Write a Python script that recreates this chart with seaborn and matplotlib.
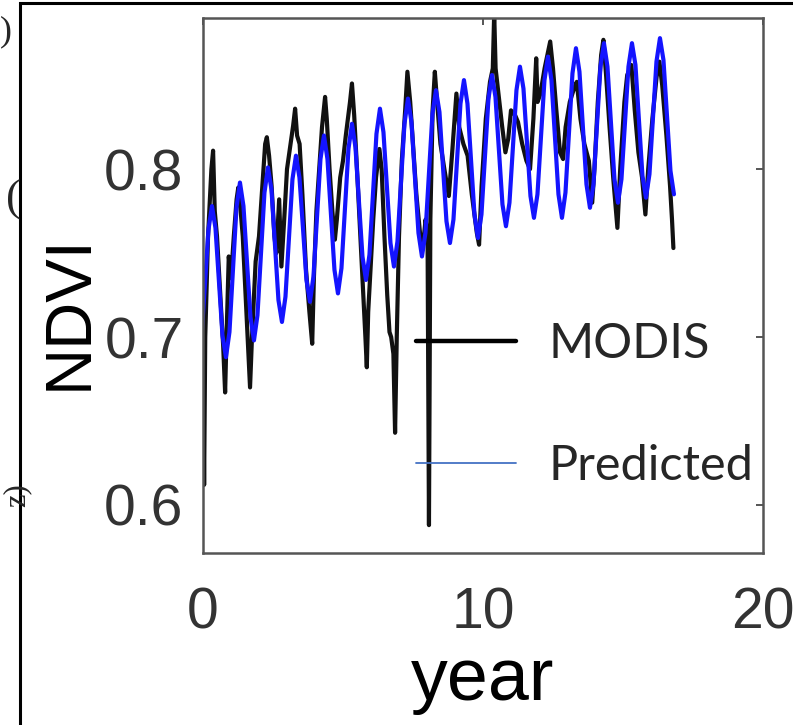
import numpy as np
import pandas as pd
import matplotlib
matplotlib.use("Agg")
import matplotlib.pyplot as plt
import seaborn as sns
from matplotlib.lines import Line2D
from matplotlib.patches import Rectangle

# -----------------------------
# Data
# -----------------------------

# MODIS NDVI (black, noisy with cloud dropouts)
modis_year = [0.00, 0.04, 0.08, 0.18, 0.30, 0.36, 0.42, 0.50, 0.62, 0.72, 0.79, 0.84, 0.92,
              1.00, 1.10, 1.20, 1.26, 1.33, 1.42, 1.55, 1.68, 1.75, 1.88,
              2.00, 2.12, 2.22, 2.28, 2.36, 2.45, 2.55, 2.62, 2.72, 2.80, 2.90,
              3.00, 3.10, 3.22, 3.29, 3.36, 3.45, 3.55, 3.68, 3.80, 3.90, 3.96,
              4.05, 4.15, 4.25, 4.36, 4.42, 4.52, 4.62, 4.71, 4.78, 4.90,
              5.00, 5.10, 5.25, 5.32, 5.40, 5.50, 5.62, 5.72, 5.80, 5.85, 5.90,
              6.00, 6.08, 6.18, 6.30, 6.38, 6.48, 6.58, 6.66, 6.72, 6.80, 6.86, 6.92,
              7.00, 7.10, 7.22, 7.30, 7.40, 7.50, 7.62, 7.75, 7.86, 7.95,
              8.02, 8.07, 8.12, 8.20, 8.28, 8.36, 8.48, 8.62, 8.78, 8.90,
              9.05, 9.15, 9.30, 9.45, 9.60, 9.72, 9.78, 9.86, 9.95,
              10.10, 10.25, 10.35, 10.40, 10.45, 10.55, 10.68, 10.80, 10.90,
              11.00, 11.15, 11.25, 11.40, 11.55, 11.68, 11.80, 11.90, 11.95,
              12.05, 12.20, 12.40, 12.50, 12.62, 12.75, 12.86, 12.95,
              13.10, 13.25, 13.35, 13.48, 13.62, 13.78, 13.90, 13.98,
              14.10, 14.22, 14.30, 14.40, 14.52, 14.65, 14.80, 14.90,
              15.05, 15.15, 15.30, 15.42, 15.55, 15.68, 15.80, 15.90,
              16.05, 16.20, 16.30, 16.40, 16.55, 16.68, 16.75, 16.80]
modis_ndvi = [0.700, 0.612, 0.700, 0.760, 0.800, 0.811, 0.775, 0.760, 0.725, 0.695, 0.667, 0.700, 0.748,
              0.735, 0.760, 0.782, 0.789, 0.778, 0.760, 0.715, 0.670, 0.700, 0.745,
              0.760, 0.790, 0.815, 0.819, 0.808, 0.790, 0.760, 0.750, 0.782, 0.742, 0.770,
              0.800, 0.812, 0.826, 0.836, 0.820, 0.815, 0.785, 0.740, 0.715, 0.696, 0.735,
              0.775, 0.800, 0.825, 0.843, 0.830, 0.800, 0.775, 0.758, 0.770, 0.795,
              0.805, 0.820, 0.840, 0.851, 0.832, 0.800, 0.760, 0.726, 0.700, 0.682, 0.715,
              0.745, 0.770, 0.795, 0.812, 0.800, 0.760, 0.725, 0.703, 0.700, 0.690, 0.643, 0.700,
              0.760, 0.805, 0.835, 0.858, 0.840, 0.815, 0.785, 0.762, 0.755, 0.770,
              0.760, 0.588, 0.770, 0.835, 0.858, 0.840, 0.815, 0.800, 0.784, 0.810,
              0.845, 0.825, 0.815, 0.808, 0.785, 0.770, 0.762, 0.755, 0.790,
              0.830, 0.852, 0.860, 0.893, 0.860, 0.845, 0.826, 0.810, 0.818,
              0.835, 0.832, 0.828, 0.815, 0.805, 0.800, 0.830, 0.866, 0.840,
              0.845, 0.860, 0.876, 0.860, 0.835, 0.810, 0.806, 0.825,
              0.840, 0.848, 0.852, 0.830, 0.815, 0.805, 0.780, 0.800,
              0.840, 0.868, 0.877, 0.855, 0.825, 0.795, 0.765, 0.800,
              0.840, 0.856, 0.862, 0.835, 0.810, 0.795, 0.773, 0.800,
              0.830, 0.855, 0.864, 0.850, 0.820, 0.790, 0.770, 0.753]

# Predicted NDVI (blue), sampled every 1/8 year starting just before year 0
pred_ndvi = [0.699,
             0.732, 0.764, 0.778, 0.765, 0.733, 0.701, 0.688, 0.703,
             0.740, 0.777, 0.792, 0.778, 0.745, 0.712, 0.698, 0.713,
             0.750, 0.786, 0.801, 0.788, 0.755, 0.722, 0.709, 0.724,
             0.759, 0.794, 0.808, 0.795, 0.765, 0.734, 0.721, 0.736,
             0.771, 0.806, 0.820, 0.806, 0.773, 0.740, 0.726, 0.741,
             0.777, 0.812, 0.827, 0.813, 0.781, 0.748, 0.734, 0.749,
             0.785, 0.821, 0.836, 0.822, 0.789, 0.756, 0.742, 0.757,
             0.792, 0.827, 0.842, 0.828, 0.795, 0.762, 0.748, 0.762,
             0.798, 0.833, 0.847, 0.834, 0.802, 0.769, 0.756, 0.770,
             0.805, 0.839, 0.853, 0.839, 0.806, 0.773, 0.759, 0.773,
             0.808, 0.842, 0.856, 0.843, 0.811, 0.779, 0.766, 0.780,
             0.814, 0.847, 0.861, 0.848, 0.816, 0.784, 0.771, 0.785,
             0.819, 0.853, 0.867, 0.853, 0.819, 0.785, 0.771, 0.786,
             0.822, 0.857, 0.872, 0.858, 0.825, 0.791, 0.777, 0.791,
             0.826, 0.861, 0.875, 0.861, 0.828, 0.794, 0.780, 0.794,
             0.828, 0.861, 0.875, 0.862, 0.829, 0.796, 0.783, 0.797,
             0.831, 0.864, 0.878, 0.865, 0.832, 0.799, 0.785]
pred_year = -0.055 + 0.125 * np.arange(len(pred_ndvi))

df = pd.concat([
    pd.DataFrame({"year": modis_year, "NDVI": modis_ndvi, "source": "MODIS"}),
    pd.DataFrame({"year": pred_year, "NDVI": pred_ndvi, "source": "Predicted"}),
], ignore_index=True)

# -----------------------------
# Plot
# -----------------------------

sns.set_theme(style="white")
plt.rcParams["font.family"] = ["Liberation Sans", "DejaVu Sans"]

W, H = 793, 725
fig = plt.figure(figsize=(W / 100, H / 100), dpi=100)
ax = fig.add_axes([203 / W, 172 / H, 560 / W, 535 / H])

sns.lineplot(data=df, x="year", y="NDVI", hue="source", hue_order=["MODIS", "Predicted"],
             palette={"MODIS": "#111111", "Predicted": "#1414ff"},
             estimator=None, sort=False, linewidth=3.0, legend=False, ax=ax)

ax.set_xlim(0, 20)
ax.set_ylim(0.5714, 0.890)
ax.set_xticks([0, 10, 20])
ax.set_yticks([0.6, 0.7, 0.8])
ax.set_yticklabels(["0.6", "0.7", "0.8"])

for s in ax.spines.values():
    s.set_color("#555555")
    s.set_linewidth(1.8)
ax.tick_params(direction="in", length=5, width=1.4, color="#555555",
               top=True, right=True, labelsize=41, labelcolor="#333333")
ax.tick_params(axis="x", pad=24)
ax.tick_params(axis="y", pad=14)

ax.set_xlabel("year", fontsize=53, color="black", va="baseline")
ax.xaxis.set_label_coords(0.5, (553 - 700) / 535)
ax.set_ylabel("NDVI", fontsize=47, color="black", va="baseline")
ax.yaxis.set_label_coords((87 - 203) / 560, (553 - 312) / 535)

handles = [Line2D([], [], color="black", lw=3.2),
           Line2D([], [], color="#4472C4", lw=1.3)]
ax.legend(handles, ["MODIS", "Predicted"], loc="upper left",
          bbox_to_anchor=((416 - 203) / 560, (553 - 322) / 535),
          frameon=False, borderpad=0, borderaxespad=0,
          handlelength=2.06, handletextpad=0.66, labelspacing=1.60,
          prop={"family": "Lato", "size": 35}, labelcolor="#262626")

# outer frame of the surrounding panel
fig.add_artist(Rectangle((20 / W, -0.05), 1.2, 1.05 - 3 / H, transform=fig.transFigure,
                         fill=False, ec="black", lw=2.2))

# clipped bits of a neighbouring panel on the left edge
serif = ["Liberation Serif", "DejaVu Serif"]
fig.text(0, 1 - 32 / H, ")", family=serif, fontsize=26, va="center")
fig.text(6 / W, 1 - 200 / H, "(", family=serif, fontsize=32, va="center")
fig.text(2 / W, 1 - 495 / H, "z)", family=serif, fontsize=22, va="center", rotation=90)

fig.savefig("out.png", dpi=100)
